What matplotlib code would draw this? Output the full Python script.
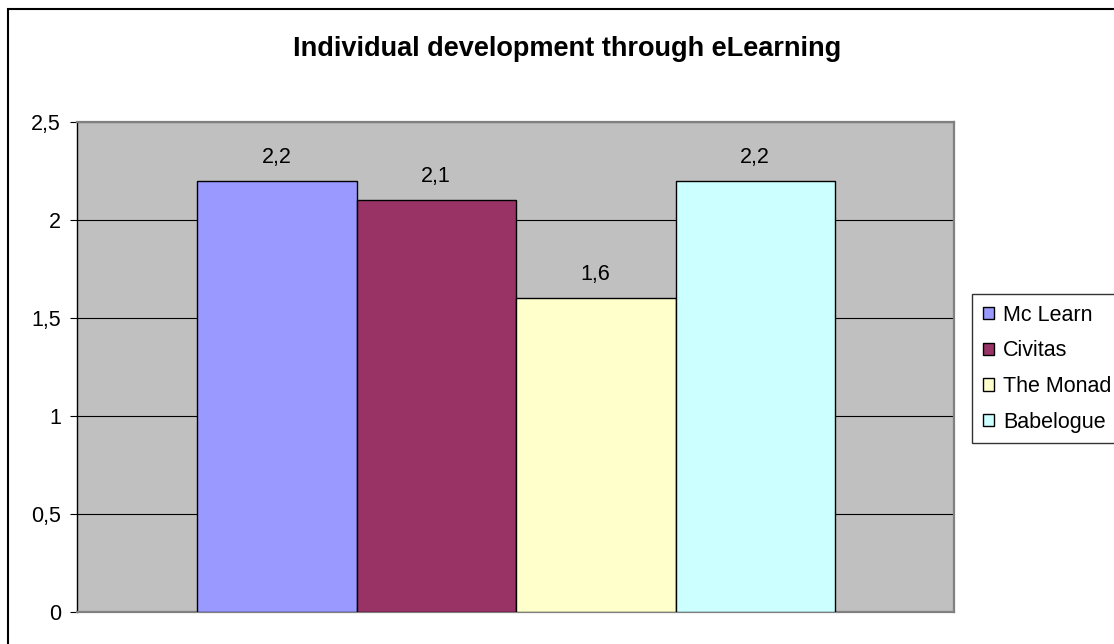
import matplotlib
matplotlib.use("Agg")
import matplotlib.pyplot as plt
from matplotlib.patches import Patch, Rectangle

plt.rcParams['font.family'] = ['Liberation Sans', 'DejaVu Sans']

title = "Individual development through eLearning"
categories = ["Mc Learn", "Civitas", "The Monad", "Babelogue"]
values = [2.2, 2.1, 1.6, 2.2]
value_labels = ["2,2", "2,1", "1,6", "2,2"]
colors = ["#9999FF", "#993366", "#FFFFCC", "#CCFFFF"]
yticks = [0, 0.5, 1, 1.5, 2, 2.5]
ytick_labels = ["0", "0,5", "1", "1,5", "2", "2,5"]

W, H = 1114, 644
fig = plt.figure(figsize=(W / 100, H / 100), dpi=100)
fig.patch.set_facecolor("white")

# outer chart border (cropped at right/bottom)
fig.patches.append(Rectangle((8 / W, -0.05), 1.2, 1 - 9 / H + 0.05, transform=fig.transFigure,
                             fill=False, edgecolor="black", linewidth=1.5))

ax = fig.add_axes([77 / W, (H - 612) / H, (954 - 77) / W, (612 - 122) / H])
ax.set_facecolor("#C0C0C0")

x = list(range(len(categories)))
bars = ax.bar(x, values, width=1.0, color=colors, edgecolor="black", linewidth=1.0, zorder=3)
ax.set_xlim(-0.5 - 120 / 159.5, 3.5 + 119 / 159.5)
ax.set_ylim(0, 2.5)
ax.set_yticks(yticks)
ax.set_yticklabels(ytick_labels, fontsize=15.5)
ax.set_xticks([])
ax.yaxis.grid(True, color="black", linewidth=0.8, zorder=0)
ax.set_axisbelow(True)
ax.tick_params(axis="y", length=5, width=0.8, pad=6.5, color="black")

for sp in ["top", "right", "bottom"]:
    ax.spines[sp].set_color("#808080")
    ax.spines[sp].set_linewidth(1.6)
ax.spines["left"].set_color("black")
ax.spines["left"].set_linewidth(1.0)

for xi, v, lab in zip(x, values, value_labels):
    ax.annotate(lab, (xi, v), xytext=(0, 13), textcoords="offset points",
                ha="center", va="baseline", fontsize=15.5)

fig.text(567 / W, (H - 56) / H, title, ha="center", va="baseline",
         fontsize=19.5, fontweight="bold")

handles = [Patch(facecolor=c, edgecolor="black", linewidth=1.0) for c in colors]
leg = fig.legend(handles, categories, loc="upper left",
                 bbox_to_anchor=(972 / W, 1 - 294 / H), fontsize=15.5,
                 frameon=True, fancybox=False, edgecolor="black",
                 handlelength=0.5, handleheight=0.5, handletextpad=0.45,
                 labelspacing=0.68, borderpad=0.5, borderaxespad=0)
leg.get_frame().set_linewidth(1.0)

fig.savefig("out.png", dpi=100)
